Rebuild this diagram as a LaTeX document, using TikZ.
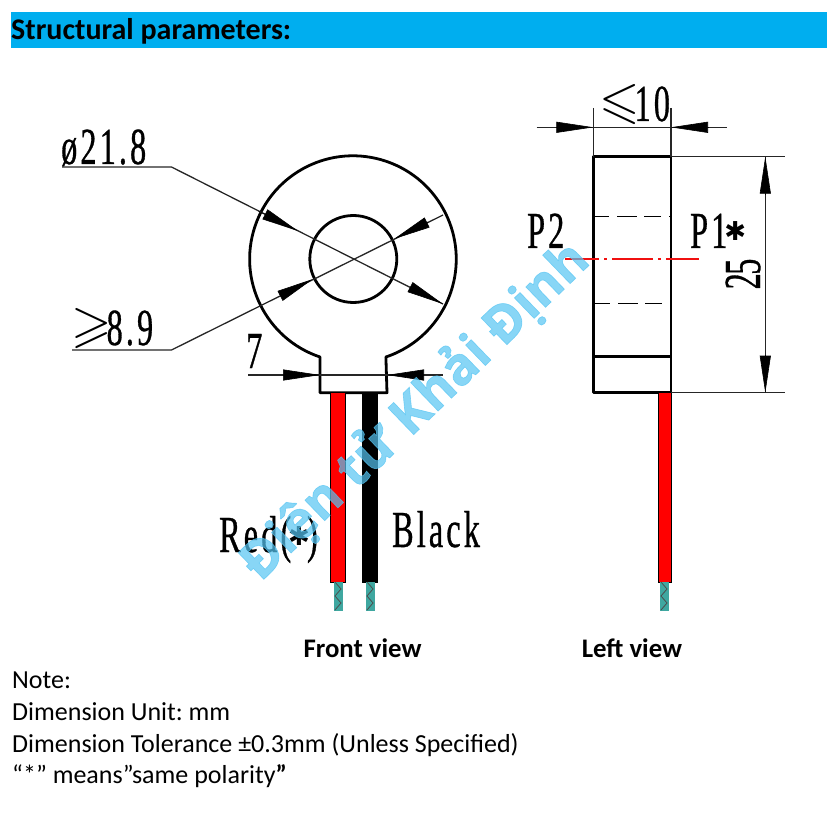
\documentclass[tikz,border=0pt]{standalone}
\usepackage{amsmath, amssymb}
\usepackage{fontspec}
\usetikzlibrary{arrows.meta}
\setmainfont{Carlito}
\newfontfamily\cadfont[FakeStretch=0.62,LetterSpace=6,FakeBold=0.6]{Liberation Serif}
\newfontfamily\markfont[BoldFeatures={FakeBold=1.2}]{Open Sans}
\newfontfamily\starfont{DejaVu Sans}
\definecolor{barblue}{HTML}{00AEEF}
\definecolor{markblue}{HTML}{55C4F2}
\definecolor{strand}{HTML}{3FA7A0}
\definecolor{axisred}{HTML}{F01010}
\newcommand{\cadstar}{\raisebox{7pt}{\fontsize{26}{26}\starfont ✱}}
\tikzset{
  outline/.style={line width=2.8pt,line join=round},
  dimline/.style={line width=1.3pt,black!85},
  dimhead/.style={-{Triangle[length=37pt,width=11pt]},line width=0.6pt,shorten >=0pt},
  cadtext/.style={inner sep=0pt,font=\fontsize{52}{52}\cadfont},
  notetext/.style={anchor=base west,inner sep=0pt,font=\fontsize{26}{30}\selectfont},
  viewtext/.style={anchor=base,inner sep=0pt,font=\fontsize{26.8}{30}\selectfont\bfseries},
}
\begin{document}
\begin{tikzpicture}[x=1pt,y=-1pt]
        \useasboundingbox (0,0) rectangle (827,826);
        \fill [barblue] (11,12) rectangle (827,48);
        \node (title) [notetext,font=\fontsize{30}{32}\selectfont\bfseries] at (11,40) {Structural parameters:};

        % front view
        \coordinate (ringc) at (353.3,259);
        \draw [outline] (320,392.7) -- (320,357) arc (108.6:431.4:103.3) -- (387,392.7) -- cycle;
        \draw [outline] (ringc) circle (43.5);
        \draw [line width=0.8pt,fill=red] (330.5,392.7) rectangle (345.5,582);
        \draw [line width=0.8pt,fill=black] (362,392.7) rectangle (377.5,582);

        % leaders
        \coordinate (outerl) at (62,167);
        \coordinate (outerk) at (171.5,167);
        \coordinate (outerr) at (443,304);
        \draw [dimline] (outerl) -- (outerk) -- (outerr);
        \draw [dimhead] (258.5,211) -- (298,231);
        \draw [dimhead] (410,287) -- (443,304);
        \coordinate (innerl) at (72,350);
        \coordinate (innerk) at (171.5,350);
        \coordinate (innerr) at (443,215);
        \draw [dimline] (innerl) -- (innerk) -- (innerr);
        \draw [dimhead] (280,296) -- (313,279);
        \draw [dimhead] (428,222) -- (394,239);
        \coordinate (neckl) at (248,375);
        \coordinate (neckr) at (443,375);
        \draw [dimline] (neckl) -- (neckr);
        \draw [dimhead] (283,375) -- (320,375);
        \draw [dimhead] (423,375) -- (387,375);

        \node (dia) [cadtext,anchor=base west] at (61,164) {ø21.8};
        \node (hole) [cadtext,anchor=base west] at (71,345) {\raisebox{4pt}{$\geqslant$}\hspace{-5pt}8.9};
        \node (seven) [cadtext,anchor=base west] at (246,368) {7};
        \node (redw) [cadtext,anchor=base west] at (219,552) {Red(\hspace{-3pt}\cadstar\hspace{-3pt})};
        \node (blackw) [cadtext,anchor=base west] at (392,547) {Black};

        % left view
        \draw [outline] (593.3,156.7) rectangle (671,392.7);
        \draw [outline] (593.3,356.7) -- (671,356.7);
        \draw [line width=1.2pt,dash pattern=on 14pt off 8pt on 20pt off 7pt on 17pt off 8pt] (595,216.7) -- (670,216.7);
        \draw [line width=1.2pt,dash pattern=on 15pt off 8pt on 20pt off 7pt on 17pt off 8pt] (595,303.3) -- (670,303.3);
        \draw [line width=1.7pt,draw=axisred,dash pattern=on 34pt off 5pt on 3pt off 5pt on 41pt off 5pt on 3pt off 5pt] (565,259.3) -- (699,259.3);
        \draw [line width=0.8pt,fill=red] (658,392.7) rectangle (671,582);

        \coordinate (widthl) at (536.7,127.3);
        \coordinate (widthr) at (727,127.3);
        \draw [dimline] (widthl) -- (widthr);
        \draw [dimline] (593.3,108) -- (593.3,156.7);
        \draw [dimline] (671,108) -- (671,156.7);
        \draw [dimhead] (556,127.3) -- (593.3,127.3);
        \draw [dimhead] (708,127.3) -- (671,127.3);
        \draw [dimline] (671,156.7) -- (785,156.7);
        \draw [dimline] (671,392.7) -- (785,392.7);
        \draw [dimline] (765.3,156.7) -- (765.3,392.7);
        \draw [dimhead] (765.3,194) -- (765.3,156.7);
        \draw [dimhead] (765.3,355) -- (765.3,392.7);

        \node (widthv) [cadtext,anchor=base west] at (599,121) {\raisebox{3pt}{$\leqslant$}\hspace{-5pt}10};
        \node (height) [cadtext,rotate=90,anchor=base] at (760,274) {2\hspace{-1.5pt}5};
        \node (ptwo) [cadtext,anchor=base west] at (527,248) {P2};
        \node (pone) [cadtext,anchor=base west] at (690,248) {P1\hspace{-3pt}\cadstar};

        % stripped ends
        \foreach \x in {334,366,660} {
          \fill [strand] (\x,582) rectangle (\x+8.5,611);
          \draw [line width=0.8pt,black!70] (\x+1,582) -- (\x+7,589) -- (\x+1,596) -- (\x+7,603) -- (\x+1,610);
        }

        \node (front) [viewtext] at (362.5,657) {Front view};
        \node (left) [viewtext] at (632,657) {Left view};
        \node (noteh) [notetext] at (12,688.5) {Note:};
        \node (noteu) [notetext] at (12,720.5) {Dimension Unit:\hspace{-2pt} mm};
        \node (notet) [notetext] at (12,752) {Dimension Tolerance ±0.3mm (Unless Specified)};
        \node (notep) [notetext] at (12,783) {“*” means”same polarity\textbf{”}};

        % watermark
        \node (mark) [rotate=44,inner sep=0pt,text=markblue,text opacity=0.7,font=\fontsize{52}{52}\markfont\bfseries] at (415,411) {Điện tử Khải Định};
\end{tikzpicture}
\end{document}
